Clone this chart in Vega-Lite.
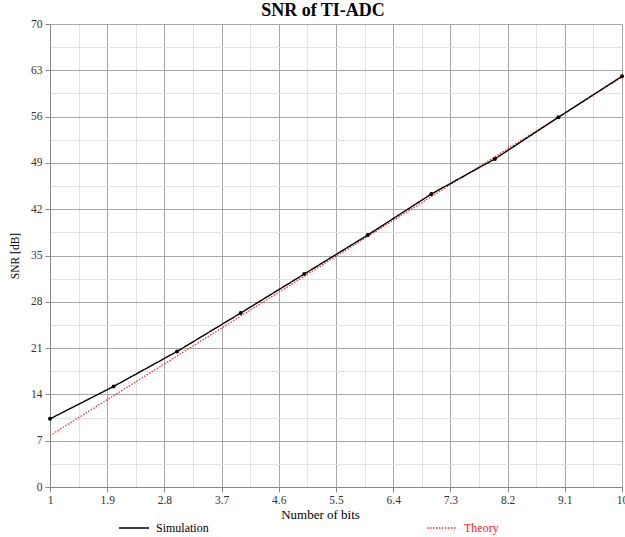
{
  "$schema": "https://vega.github.io/schema/vega-lite/v6.json",
  "width": 572,
  "height": 463,
  "autosize": {"type": "none"},
  "padding": {"left": 50, "top": 24, "right": 3, "bottom": 50},
  "background": "white",
  "config": {
    "font": "Liberation Serif",
    "view": {"stroke": null},
    "axis": {"labelFont": "Liberation Serif", "titleFont": "Liberation Serif", "labelColor": "#333", "titleColor": "#000", "titleFontWeight": "normal"},
    "legend": {"labelFont": "Liberation Serif"}
  },
  "title": {"text": "SNR of TI-ADC", "font": "Liberation Serif", "fontSize": 18, "fontWeight": "bold", "color": "#000", "anchor": "middle", "offset": -2, "dx": -13},
  "data": {"values": [
    {"bits": 1, "snr": 10.3, "series": "Simulation"},
    {"bits": 2, "snr": 15.2, "series": "Simulation"},
    {"bits": 3, "snr": 20.5, "series": "Simulation"},
    {"bits": 4, "snr": 26.3, "series": "Simulation"},
    {"bits": 5, "snr": 32.2, "series": "Simulation"},
    {"bits": 6, "snr": 38.1, "series": "Simulation"},
    {"bits": 7, "snr": 44.3, "series": "Simulation"},
    {"bits": 8, "snr": 49.6, "series": "Simulation"},
    {"bits": 9, "snr": 55.9, "series": "Simulation"},
    {"bits": 10, "snr": 62.1, "series": "Simulation"},
    {"bits": 1, "snr": 7.78, "series": "Theory"},
    {"bits": 2, "snr": 13.8, "series": "Theory"},
    {"bits": 3, "snr": 19.82, "series": "Theory"},
    {"bits": 4, "snr": 25.84, "series": "Theory"},
    {"bits": 5, "snr": 31.86, "series": "Theory"},
    {"bits": 6, "snr": 37.88, "series": "Theory"},
    {"bits": 7, "snr": 43.9, "series": "Theory"},
    {"bits": 8, "snr": 49.92, "series": "Theory"},
    {"bits": 9, "snr": 55.94, "series": "Theory"},
    {"bits": 10, "snr": 61.96, "series": "Theory"}
  ]},
  "resolve": {"axis": {"x": "independent", "y": "independent"}},
  "layer": [
    {
      "transform": [{"filter": "datum.series === 'Theory'"}],
      "mark": {"type": "line", "strokeWidth": 1.2, "clip": true},
      "encoding": {
        "x": {"field": "bits", "type": "quantitative", "scale": {"domain": [1, 10], "nice": false, "zero": false},
          "axis": {"orient": "bottom", "values": [1.45, 2.35, 3.25, 4.15, 5.05, 5.95, 6.85, 7.75, 8.65, 9.55], "labels": false, "ticks": false, "domain": false, "grid": true, "gridColor": "#e2e2e2", "gridWidth": 1, "title": null}},
        "y": {"field": "snr", "type": "quantitative", "scale": {"domain": [0, 70], "nice": false, "zero": true},
          "axis": {"orient": "left", "values": [3.5, 10.5, 17.5, 24.5, 31.5, 38.5, 45.5, 52.5, 59.5, 66.5], "labels": false, "ticks": false, "domain": false, "grid": true, "gridColor": "#e2e2e2", "gridWidth": 1, "title": null}},
        "color": {"field": "series", "type": "nominal", "scale": {"domain": ["Simulation", "Theory"], "range": ["#000000", "#ff2020"]}},
        "strokeDash": {"field": "series", "type": "nominal", "scale": {"domain": ["Simulation", "Theory"], "range": [[1, 0], [1.5, 1.5]]}}
      }
    },
    {
      "transform": [{"filter": "datum.series === 'Simulation'"}],
      "mark": {"type": "line", "strokeWidth": 1.4, "point": {"filled": true, "size": 16}},
      "encoding": {
        "x": {"field": "bits", "type": "quantitative", "scale": {"domain": [1, 10], "nice": false, "zero": false},
          "axis": {"orient": "bottom", "values": [1, 1.9, 2.8, 3.7, 4.6, 5.5, 6.4, 7.3, 8.2, 9.1, 10], "labelExpr": "'' + datum.value", "grid": true, "gridColor": "#a8a8a8", "domainColor": "#888", "tickColor": "#888", "tickSize": 5, "labelFontSize": 11.5, "labelPadding": 2, "labelFlush": false, "title": "Number of bits", "titleFontSize": 13, "titleX": 270, "titleY": 27, "titleAlign": "center", "titleBaseline": "middle", "titleAngle": 0}},
        "y": {"field": "snr", "type": "quantitative", "scale": {"domain": [0, 70], "nice": false, "zero": true},
          "axis": {"orient": "left", "values": [0, 7, 14, 21, 28, 35, 42, 49, 56, 63, 70], "labelExpr": "'' + datum.value", "grid": true, "gridColor": "#a8a8a8", "domainColor": "#888", "tickColor": "#888", "tickSize": 5, "labelFontSize": 11.5, "labelPadding": 3, "title": "SNR [dB]", "titleFontSize": 11.5, "titlePadding": 10}},
        "color": {"field": "series", "type": "nominal", "scale": {"domain": ["Simulation", "Theory"], "range": ["#000000", "#ff2020"]},
          "legend": {"orient": "none", "legendX": 68, "legendY": 488, "direction": "horizontal", "columns": 2, "columnPadding": 215, "title": null, "symbolType": "stroke", "symbolSize": 900, "symbolStrokeWidth": 1.4, "labelFontSize": 12, "labelFont": "Liberation Serif", "labelOffset": 6, "values": ["Simulation", "Theory"],
            "encode": {"labels": {"update": {"fill": {"signal": "datum.value === 'Theory' ? '#ff2020' : '#000000'"}}}}}},
        "strokeDash": {"field": "series", "type": "nominal", "scale": {"domain": ["Simulation", "Theory"], "range": [[1, 0], [1.5, 1.5]]}}
      }
    }
  ]
}
